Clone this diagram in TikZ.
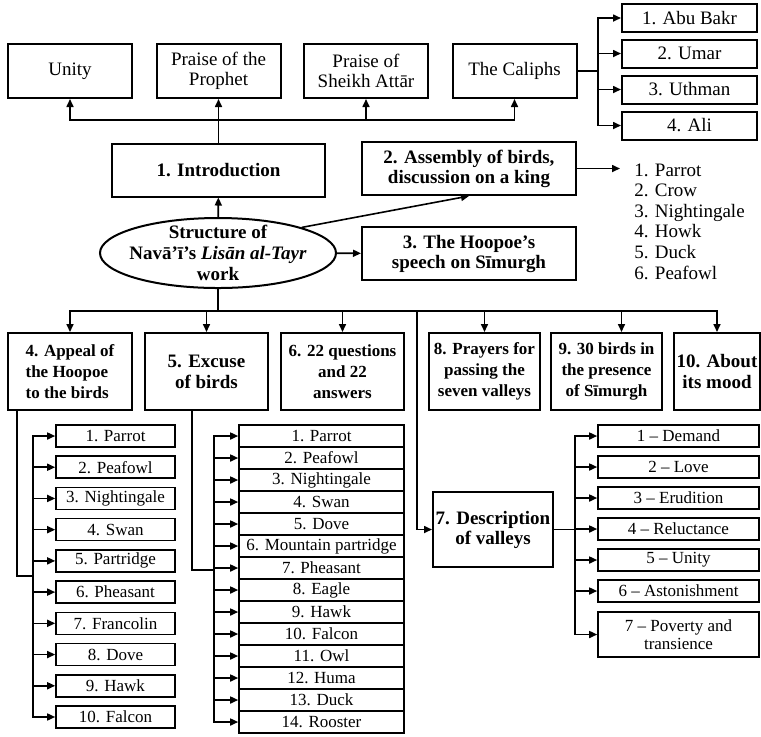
\documentclass[tikz,border=0pt]{standalone}
\usepackage{fontspec}
\setmainfont{Liberation Serif}
\usetikzlibrary{shapes.geometric, arrows.meta, positioning}

\begin{document}
\begin{tikzpicture}[x=0.5pt, y=-0.5pt,
            box/.style={rectangle, draw, line width=1pt, align=center, inner sep=1pt,
                        font=\fontsize{9.5}{10}\selectfont},
            bbox/.style={box, font=\fontsize{9.5}{10}\selectfont\bfseries},
            rowbox/.style={box, minimum height=38.5pt, font=\fontsize{8.5}{10.5}\selectfont\bfseries},
            item/.style={box, line width=0.8pt, minimum height=11pt, inner sep=0pt,
                        font=\fontsize{8.5}{9}\selectfont},
            arrow/.style={-{Triangle[length=4pt, width=3.5pt]}, line width=0.8pt},
            line/.style={line width=0.8pt}
        ]
            \useasboundingbox (0,0) rectangle (761,736);

            % Top row
            \node[box, minimum width=62pt, minimum height=27pt] (unity) at (70,71) {Unity};
            \node[box, minimum width=62pt, minimum height=27pt] (prophet) at (218.5,71) {Praise of the\\Prophet};
            \node[box, minimum width=62pt, minimum height=27pt] (attar) at (366,71) {Praise of\\Sheikh Attār};
            \node[box, minimum width=62pt, minimum height=27pt] (caliphs) at (514.5,71) {The Caliphs};

            % Caliphs
            \foreach \t/\y [count=\i] in {1. Abu Bakr/18, 2. Umar/53.5, 3. Uthman/89.5, 4. Ali/125.5}
                \node[box, minimum width=67.5pt, minimum height=14pt, inner sep=0pt] (cal\i) at (689.5,\y) {\t};

            % Centre
            \node[bbox, minimum width=106.5pt, minimum height=26.5pt] (intro) at (218.5,170) {1. Introduction};
            \node[bbox, minimum width=107pt, minimum height=26.5pt] (assembly) at (469,168.5) {2. Assembly of birds,\\discussion on a king};
            \node[bbox, minimum width=107pt, minimum height=26.5pt] (hoopoe) at (469,253.5) {3. The Hoopoe's\\speech on Sīmurgh};
            \node[ellipse, draw, line width=1pt, minimum width=118pt, minimum height=35pt, inner sep=0pt,
                  label={[align=center, font=\fontsize{9.5}{10.5}\selectfont\bfseries]center:{Structure of\\Navā'ī's \textit{Lisān al-Tayr}\\work}}] (work) at (218,253) {};
            \node[anchor=west, align=left, inner xsep=7pt, inner ysep=0pt,
                  font=\fontsize{9.5}{10.3}\selectfont] (kings) at (620,221.5)
                  {1. Parrot\\2. Crow\\3. Nightingale\\4. Howk\\5. Duck\\6. Peafowl};

            % Bottom row
            \node[rowbox, minimum width=62pt, align=left, inner xsep=2pt] (appeal) at (70,371.5) {4. Appeal of\\the Hoopoe\\to the birds};
            \node[rowbox, minimum width=61.5pt, font=\fontsize{9.5}{10.5}\selectfont\bfseries] (excuse) at (206.5,371.5) {5. Excuse\\of birds};
            \node[rowbox, minimum width=61.5pt] (questions) at (342.5,371.5) {6. 22 questions\\and 22\\answers};
            \node[rowbox, minimum width=55.5pt] (prayers) at (484.5,371.5) {8. Prayers for\\passing the\\seven valleys};
            \node[rowbox, minimum width=55.5pt] (presence) at (606.5,371.5) {9. 30 birds in\\the presence\\of Sīmurgh};
            \node[rowbox, minimum width=43pt, font=\fontsize{9.5}{10.5}\selectfont\bfseries] (mood) at (717,371.5) {10. About\\its mood};
            \node[bbox, minimum width=60pt, minimum height=37.5pt] (valleys) at (493,529.5) {7. Description\\of valleys};

            % Lists
            \foreach \t [count=\i] in {1. Parrot, 2. Peafowl, 3. Nightingale, 4. Swan, 5. Partridge,
                                      6. Pheasant, 7. Francolin, 8. Dove, 9. Hawk, 10. Falcon}
                \node[item, minimum width=59.5pt] (a\i) at (115.5,{436+31.22*(\i-1)}) {\t};
            \foreach \t [count=\i] in {1. Parrot, 2. Peafowl, 3. Nightingale, 4. Swan, 5. Dove,
                                      6. Mountain partridge, 7. Pheasant, 8. Eagle, 9. Hawk, 10. Falcon,
                                      11. Owl, 12. Huma, 13. Duck, 14. Rooster}
                \node[item, minimum width=82.5pt] (e\i) at (321.5,{436+22*(\i-1)}) {\t};
            \foreach \t [count=\i] in {1 -- Demand, 2 -- Love, 3 -- Erudition, 4 -- Reluctance,
                                      5 -- Unity, 6 -- Astonishment}
                \node[item, minimum width=80.5pt] (v\i) at (678.5,{436+31*(\i-1)}) {\t};
            \node[item, minimum width=80.5pt, minimum height=22.5pt] (v7) at (678.5,634.5) {7 -- Poverty and\\transience};

            % Arrows
            \coordinate (topbus) at (218,120);
            \draw[arrow] (intro) -- (prophet);
            \draw[arrow] (topbus) -| (unity);
            \draw[arrow] (topbus) -| (attar);
            \draw[arrow] (topbus) -| (caliphs);
            \coordinate (cbus) at (598,71);
            \draw[line] (caliphs) -- (cbus);
            \foreach \i in {1,...,4}
                \draw[arrow] (cbus) |- (cal\i);
            \draw[arrow] (work) -- (intro);
            \draw[arrow] (work.17) -- (assembly.south);
            \draw[arrow] (work) -- (hoopoe);
            \draw[arrow] (assembly.east) -- (assembly.east -| kings.west);

            \coordinate (bbus) at (218,311);
            \draw[line] (work) -- (bbus);
            \draw[arrow] (bbus) -| (appeal);
            \draw[arrow] (bbus) -| (excuse);
            \draw[arrow] (bbus) -| (questions);
            \draw[arrow] (bbus) -| (prayers);
            \draw[arrow] (bbus) -| ([xshift=7.5pt]presence.north);
            \draw[arrow] (bbus) -| (mood);
            \coordinate (vline) at (417,400);
            \draw[arrow] (bbus) -| (vline) |- (valleys);

            \coordinate (abus) at (33,576);
            \draw[line] ([xshift=5pt]appeal.south west) |- (abus);
            \foreach \i in {1,...,10}
                \draw[arrow] (abus) |- (a\i);
            \coordinate (ebus) at (214,570);
            \draw[line] ([xshift=24pt]excuse.south west) |- (ebus);
            \foreach \i in {1,...,14}
                \draw[arrow] (ebus) |- (e\i);
            \coordinate (vbus) at (575,529.5);
            \draw[line] (valleys) -- (vbus);
            \foreach \i in {1,...,7}
                \draw[arrow] (vbus) |- (v\i);
        \end{tikzpicture}
\end{document}
